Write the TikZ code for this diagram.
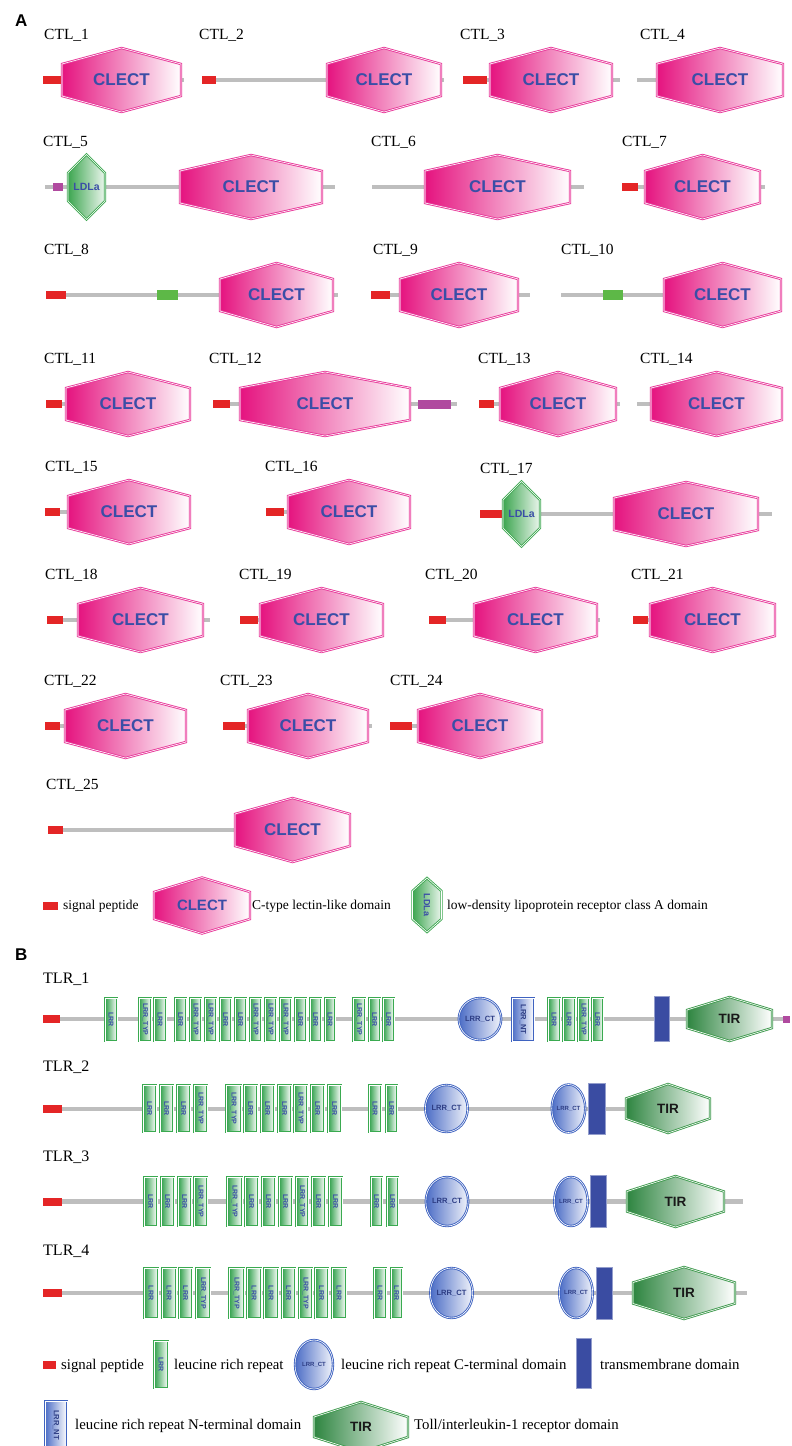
\documentclass[tikz,border=0pt]{standalone}
\usepackage{fontspec}
\setmainfont{Liberation Serif}
\newfontfamily\domsans{Liberation Sans}
\usetikzlibrary{fit,shapes.geometric}

\definecolor{bbgray}{HTML}{BEBEBE}
\definecolor{sigred}{HTML}{E42526}
\definecolor{clectpink}{HTML}{E5137F}
\definecolor{clectline}{HTML}{E8399A}
\definecolor{domblue}{HTML}{3A4EA6}
\definecolor{ldlagreen}{HTML}{3DA650}
\definecolor{ldlaline}{HTML}{3FA852}
\definecolor{lrrgreen}{HTML}{2FA04A}
\definecolor{lrrline}{HTML}{3AAA50}
\definecolor{tirgreen}{HTML}{2E8540}
\definecolor{tirline}{HTML}{3F9A4E}
\definecolor{ctblue}{HTML}{4C6DC6}
\definecolor{ctline}{HTML}{3F63C0}
\definecolor{tmblue}{HTML}{3A4CA2}
\definecolor{lowgreen}{HTML}{5DB847}
\definecolor{lowmag}{HTML}{B04A9F}

\tikzset{
  bb/.style={draw=bbgray, line width=4.5pt},
  sp/.style={rectangle, fill=sigred, draw=none, inner sep=0pt},
  magbox/.style={rectangle, fill=lowmag, draw=none, inner sep=0pt},
  grnbox/.style={rectangle, fill=lowgreen, draw=none, inner sep=0pt},
  ctlname/.style={anchor=base west, inner sep=0pt, font=\fontsize{15.5}{18}\selectfont},
  tlrname/.style={anchor=base west, inner sep=0pt, font=\fontsize{16}{19}\selectfont},
  panel/.style={anchor=base west, inner sep=0pt, font=\domsans\bfseries\fontsize{17}{20}\selectfont},
  legA/.style={anchor=base west, inner sep=0pt, font=\fontsize{13.5}{16}\selectfont},
  legB/.style={anchor=base west, inner sep=0pt, font=\fontsize{14.8}{17}\selectfont},
  clectshape/.style={left color=clectpink, right color=white, draw=clectline, line width=0.9pt, double=white, double distance=0.6pt},
  clecttxt/.style={inner sep=0pt, text=domblue, font=\domsans\bfseries\fontsize{17}{20}\selectfont},
  ldlashape/.style={left color=ldlagreen, right color=ldlagreen!10, draw=ldlaline, line width=0.9pt, double=white, double distance=0.6pt},
  ldlatxt/.style={inner sep=0pt, text=domblue, font=\domsans\bfseries\fontsize{10.5}{12}\selectfont},
  lrrbox/.style={rectangle, inner sep=-1pt, left color=lrrgreen, right color=white, draw=lrrline, line width=0.8pt, double=white, double distance=0.6pt},
  lrrtxt/.style={inner sep=0pt, rotate=-90, text=domblue, font=\domsans\bfseries\fontsize{7}{8}\selectfont},
  ntbox/.style={rectangle, inner sep=-1pt, left color=ctblue, right color=white, draw=ctline, line width=0.8pt, double=white, double distance=0.6pt},
  nttxt/.style={inner sep=0pt, rotate=-90, text=domblue!80!black, font=\domsans\bfseries\fontsize{7.6}{9}\selectfont},
  ctell/.style={ellipse, inner sep=0pt, left color=ctblue, right color=ctblue!8, draw=ctline, line width=0.9pt, double=white, double distance=0.6pt, text=domblue!80!black, font=\domsans\bfseries\fontsize{7.6}{9}\selectfont},
  ctsmall/.style={ctell, font=\domsans\bfseries\fontsize{6}{7}\selectfont},
  tmbox/.style={rectangle, inner sep=-0.5pt, fill=tmblue, draw=tmblue!55!white, line width=0.7pt},
  tirshape/.style={left color=tirgreen, right color=white, draw=tirline, line width=0.9pt, double=white, double distance=0.6pt},
  tirtxt/.style={inner sep=0pt, text=black!90, font=\domsans\bfseries\fontsize{13.5}{16}\selectfont},
}

% horizontal hexagon: x0, x1, cy, half height, half height of the flat sides, style
\newcommand\hexh[6]{\path[#6] (#1,{#3-#5}) -- ({(#1+#2)/2},{#3-#4}) -- (#2,{#3-#5}) -- (#2,{#3+#5}) -- ({(#1+#2)/2},{#3+#4}) -- (#1,{#3+#5}) -- cycle;}
% upright hexagon: cx, cy, half width, half height, half height of the flat sides, style
\newcommand\hexv[6]{\path[#6] (#1,{#2-#4}) -- ({#1+#3},{#2-#5}) -- ({#1+#3},{#2+#5}) -- (#1,{#2+#4}) -- ({#1-#3},{#2+#5}) -- ({#1-#3},{#2-#5}) -- cycle;}
% signal peptide: name, x0, x1, cy
\newcommand\sigp[4]{\node[sp, fit={(#2,{#4-4}) (#3,{#4+4})}] (#1) {};}
% CLECT domain: name, x0, x1, cy
\newcommand\clect[4]{\hexh{#2}{#3}{#4}{32}{16}{clectshape}\node[clecttxt] (#1) at ({(#2+#3)/2},#4) {CLECT};}
% LDLa domain: name, cx, cy
\newcommand\ldla[3]{\hexv{#2}{#3}{18.5}{32.5}{14}{ldlashape}\node[ldlatxt] (#1) at (#2,#3) {LDLa};}
% TIR domain: name, x0, x1, cy, half height, flat half height
\newcommand\tirdom[6]{\hexh{#2}{#3}{#4}{#5}{#6}{tirshape}\node[tirtxt] (#1) at ({(#2+#3)/2},#4) {TIR};}
% CTL protein with signal peptide and one CLECT:
% index, label x, sp x0, sp x1, line end, hex x0, hex x1, cy
\newcommand\ctlsp[8]{%
  \node[ctlname] (l#1) at (#2,{#8-41}) {CTL\_#1};
  \sigp{s#1}{#3}{#4}{#8}
  \coordinate (e#1) at (#5,#8);
  \draw[bb] (s#1.east) -- (e#1);
  \clect{d#1}{#6}{#7}{#8}}
% row of leucine rich repeats: prefix, y0, y1, list x0/x1/text
\newcommand\lrrrow[4]{%
  \foreach \a/\b/\t [count=\i] in {#4}{%
    \node[lrrbox, fit={(\a,#2) (\b,#3)}] (#1\i) {};
    \node[lrrtxt] (#1t\i) at (#1\i) {\t};}}

\begin{document}
\begin{tikzpicture}[x=1pt, y=-1pt]
\useasboundingbox (0,0) rectangle (792,1446);
\clip (0,0) rectangle (792,1446);

\node[panel] (pA) at (15,26) {A};

% ---- row 1
\ctlsp{1}{44}{43}{61}{184}{62}{181}{80}
\ctlsp{2}{199}{202}{216}{444}{327}{441}{80}
\ctlsp{3}{460}{463}{487}{620}{490}{612}{80}
\node[ctlname] (l4) at (640,39) {CTL\_4};
\coordinate (b4) at (637,80); \coordinate (e4) at (770,80);
\draw[bb] (b4) -- (e4);
\clect{d4}{657}{783}{80}

% ---- row 2
\node[ctlname] (l5) at (43,146) {CTL\_5};
\coordinate (b5) at (45,187); \coordinate (e5) at (335,187);
\draw[bb] (b5) -- (e5);
\node[magbox, fit={(53,183) (63,191)}] (m5) {};
\ldla{g5}{86.5}{187}
\clect{d5}{180}{322}{187}
\node[ctlname] (l6) at (371,146) {CTL\_6};
\coordinate (b6) at (372,187); \coordinate (e6) at (584,187);
\draw[bb] (b6) -- (e6);
\clect{d6}{425}{570}{187}
\ctlsp{7}{622}{622}{638}{765}{645}{760}{187}

% ---- row 3
\ctlsp{8}{44}{46}{66}{338}{220}{333}{295}
\node[grnbox, fit={(157,290) (178,300)}] (g8) {};
\ctlsp{9}{373}{371}{390}{530}{400}{518}{295}
\node[ctlname] (l10) at (561,254) {CTL\_10};
\coordinate (b10) at (561,295); \coordinate (e10) at (770,295);
\draw[bb] (b10) -- (e10);
\node[grnbox, fit={(603,290) (623,300)}] (g10) {};
\clect{d10}{664}{781}{295}

% ---- row 4
\ctlsp{11}{44}{46}{62}{190}{66}{190}{404}
\ctlsp{12}{209}{213}{230}{457}{240}{410}{404}
\node[magbox, fit={(418,400) (451,409)}] (m12) {};
\ctlsp{13}{478}{479}{494}{620}{500}{616}{404}
\node[ctlname] (l14) at (640,363) {CTL\_14};
\coordinate (b14) at (637,404); \coordinate (e14) at (770,404);
\draw[bb] (b14) -- (e14);
\clect{d14}{651}{782}{404}

% ---- row 5
\ctlsp{15}{45}{45}{60}{190}{68}{190}{512}
\ctlsp{16}{265}{266}{284}{410}{288}{410}{512}
\ctlsp{17}{480}{480}{502}{772}{614}{758}{514}
\ldla{g17}{521.5}{514}

% ---- row 6
\ctlsp{18}{45}{47}{63}{210}{78}{203}{620}
\ctlsp{19}{239}{240}{258}{383}{260}{383}{620}
\ctlsp{20}{425}{429}{446}{600}{474}{597}{620}
\ctlsp{21}{631}{633}{648}{775}{650}{775}{620}

% ---- row 7
\ctlsp{22}{44}{45}{60}{186}{65}{186}{726}
\ctlsp{23}{220}{223}{245}{372}{248}{368}{726}
\ctlsp{24}{390}{390}{412}{542}{418}{542}{726}

% ---- row 8
\ctlsp{25}{46}{48}{63}{350}{235}{350}{830}

% ---- legend of panel A
\sigp{las}{43}{58}{905.5}
\node[legA] (lat1) at (63,909) {signal peptide};
\hexh{154}{250}{905.5}{28}{13.5}{clectshape}
\node[clecttxt, font=\domsans\bfseries\fontsize{15}{18}\selectfont] (lacl) at (202,905.5) {CLECT};
\node[legA] (lat2) at (252,909) {C-type lectin-like domain};
\hexv{427}{905}{14.5}{27}{14}{ldlashape}
\node[ldlatxt, rotate=-90, font=\domsans\bfseries\fontsize{9}{10}\selectfont] (lald) at (427,905) {LDLa};
\node[legA] (lat3) at (447,909) {low-density lipoprotein receptor class A domain};

\node[panel] (pB) at (15,960) {B};

% ---- TLR_1
\node[tlrname] (tl1) at (43,983) {TLR\_1};
\sigp{ts1}{43}{60}{1019}
\coordinate (te1) at (783,1019);
\draw[bb] (ts1.east) -- (te1);
\lrrrow{ta}{997}{1042}{104/118/LRR, 138/152/LRR\_TYP, 153/167/LRR, 174/187/LRR, 189/202/LRR\_TYP, 204/217/LRR\_TYP, 219/232/LRR, 234/247/LRR, 249/262/LRR\_TYP, 264/277/LRR\_TYP, 279/292/LRR\_TYP, 294/307/LRR, 309/322/LRR, 324/336/LRR, 352/366/LRR\_TYP, 368/381/LRR, 382/395/LRR, 547/561/LRR, 562/576/LRR, 577/590/LRR\_TYP, 591/604/LRR}
\node[ctell, minimum width=32pt, minimum height=42pt] (tact) at (480,1019) {LRR\_CT};
\node[ntbox, fit={(511,997) (535,1042)}] (tant) {};
\node[nttxt] (tantt) at (tant) {LRR\_NT};
\node[tmbox, fit={(654,996) (670,1042)}] (tatm) {};
\tirdom{tatir}{687}{772}{1019}{22}{9}
\node[magbox, fit={(783,1016) (790,1023)}] (tamag) {};

% ---- TLR_2
\node[tlrname] (tl2) at (43,1071) {TLR\_2};
\sigp{ts2}{43}{62}{1109}
\coordinate (te2) at (630,1109);
\draw[bb] (ts2.east) -- (te2);
\lrrrow{tb}{1084}{1133}{142/157/LRR, 159/174/LRR, 176/191/LRR, 193/208/LRR\_TYP, 225/242/LRR\_TYP, 243/258/LRR, 260/275/LRR, 277/292/LRR, 293/308/LRR\_TYP, 310/325/LRR, 327/342/LRR, 368/382/LRR, 385/398/LRR}
\node[ctell, minimum width=39pt, minimum height=47pt] (tbct) at (446.5,1108.5) {LRR\_CT};
\node[ctsmall, minimum width=29pt, minimum height=48pt] (tbct2) at (568.5,1108.5) {LRR\_CT};
\node[tmbox, fit={(588,1083) (606,1135)}] (tbtm) {};
\tirdom{tbtir}{626}{710}{1108.5}{24.5}{10}

% ---- TLR_3
\node[tlrname] (tl3) at (43,1161) {TLR\_3};
\sigp{ts3}{43}{62}{1201.5}
\coordinate (te3) at (743,1201.5);
\draw[bb] (ts3.east) -- (te3);
\lrrrow{tc}{1176}{1227}{143/158/LRR, 160/175/LRR, 177/192/LRR, 193/208/LRR\_TYP, 226/243/LRR\_TYP, 244/259/LRR, 261/276/LRR, 278/293/LRR, 295/309/LRR\_TYP, 311/326/LRR, 328/343/LRR, 370/383/LRR, 386/399/LRR}
\node[ctell, minimum width=38pt, minimum height=49pt] (tcct) at (447,1201.5) {LRR\_CT};
\node[ctsmall, minimum width=28pt, minimum height=49pt] (tcct2) at (571,1201.5) {LRR\_CT};
\node[tmbox, fit={(590,1175) (607,1228)}] (tctm) {};
\tirdom{tctir}{627}{724}{1201.5}{25.5}{10}

% ---- TLR_4
\node[tlrname] (tl4) at (43,1255) {TLR\_4};
\sigp{ts4}{43}{62}{1293}
\coordinate (te4) at (747,1293);
\draw[bb] (ts4.east) -- (te4);
\lrrrow{td}{1267}{1319}{143/159/LRR, 161/177/LRR, 178/193/LRR, 195/211/LRR\_TYP, 228/245/LRR\_TYP, 246/262/LRR, 263/279/LRR, 281/296/LRR, 298/313/LRR\_TYP, 314/329/LRR, 331/347/LRR, 373/387/LRR, 390/403/LRR}
\node[ctell, minimum width=39pt, minimum height=50pt] (tdct) at (451.5,1293) {LRR\_CT};
\node[ctsmall, minimum width=32pt, minimum height=50pt] (tdct2) at (576,1293) {LRR\_CT};
\node[tmbox, fit={(596,1267) (613,1320)}] (tdtm) {};
\tirdom{tdtir}{633}{735}{1293}{26}{10.5}

% ---- legend of panel B
\sigp{lbs}{43}{56}{1365}
\node[legB] (lbt1) at (61,1369) {signal peptide};
\node[lrrbox, fit={(153,1340) (169,1389)}] (lblrr) {};
\node[lrrtxt] (lblrrt) at (lblrr) {LRR};
\node[legB] (lbt2) at (174,1369) {leucine rich repeat};
\node[ctsmall, minimum width=38pt, minimum height=49pt] (lbct) at (314,1364.5) {LRR\_CT};
\node[legB] (lbt3) at (341,1369) {leucine rich repeat C-terminal domain};
\node[tmbox, fit={(576,1338) (592,1389)}] (lbtm) {};
\node[legB] (lbt4) at (600,1369) {transmembrane domain};
\node[ntbox, fit={(44,1400) (68,1456)}] (lbnt) {};
\node[nttxt] (lbntt) at (56,1425) {LRR\_NT};
\node[legB] (lbt5) at (75,1429) {leucine rich repeat N-terminal domain};
\tirdom{lbtir}{314}{408}{1427}{25}{10}
\node[legB] (lbt6) at (414,1429) {Toll/interleukin-1 receptor domain};
\end{tikzpicture}
\end{document}
